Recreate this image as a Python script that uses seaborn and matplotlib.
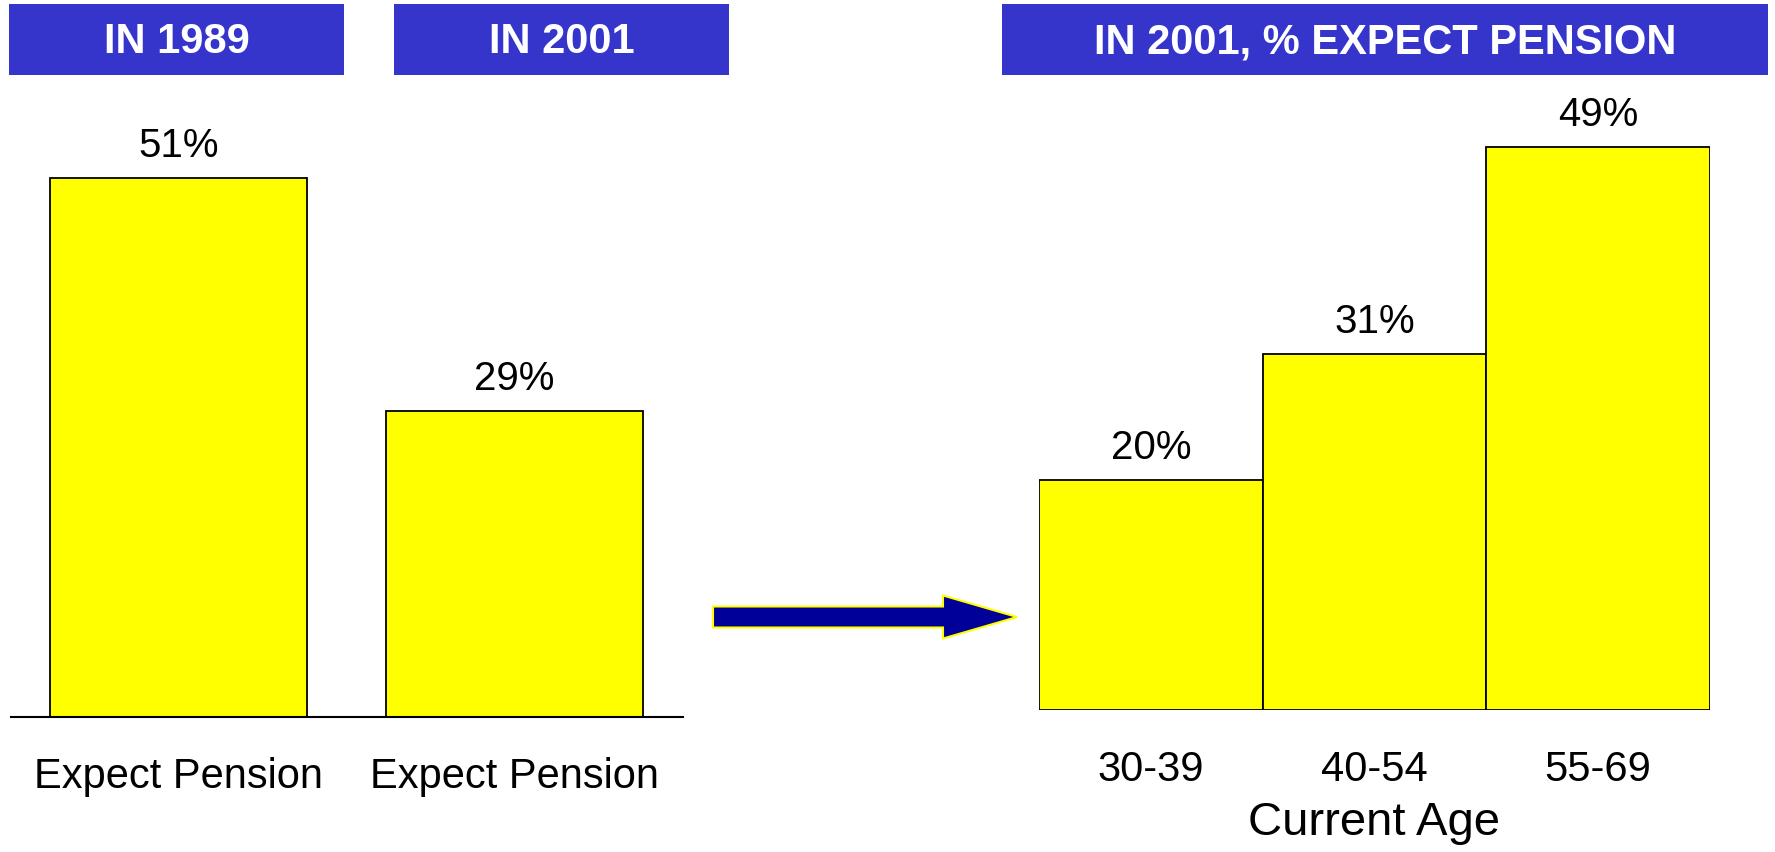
import matplotlib
matplotlib.use('Agg')
import matplotlib.pyplot as plt
import matplotlib.patches as mpatches
import seaborn as sns
import pandas as pd

# data
year_labels = ['Expect Pension', 'Expect Pension']
year_keys = ['1989', '2001']
year_values = [51, 29]

age_groups = ['30-39', '40-54', '55-69']
age_values = [20, 31, 49]

headers = ['IN 1989', 'IN 2001', 'IN 2001, % EXPECT PENSION']

sns.set_style('white')
plt.rcParams['font.family'] = ['Liberation Sans', 'DejaVu Sans']
plt.rcParams['text.color'] = 'black'
plt.rcParams['axes.labelcolor'] = 'black'
plt.rcParams['xtick.color'] = 'black'

W, H = 1775, 853
fig = plt.figure(figsize=(W / 100, H / 100), dpi=100)

def px_axes(x0, x1, ybase, ytop):
    # axes rectangle given in pixel coords from top-left
    return fig.add_axes([x0 / W, (H - ybase) / H, (x1 - x0) / W, (ybase - ytop) / H])

yellow = '#FFFF00'
blue = '#3535CC'

# left panel
ax1 = px_axes(10.5, 682.5, 718, 84)
df1 = pd.DataFrame({'key': year_keys, 'val': year_values})
sns.barplot(data=df1, x='key', y='val', color=yellow, saturation=1, width=0.765,
            edgecolor='black', linewidth=1.3, ax=ax1)
ax1.set_ylim(0, 60)
ax1.set_xlim(-0.5, 1.5)
ax1.set_xticks(range(len(year_labels)))
ax1.set_xticklabels(year_labels, fontsize=30)
ax1.tick_params(axis='x', length=0, pad=28)
ax1.set_yticks([])
ax1.set_xlabel('')
ax1.set_ylabel('')
for s in ['top', 'right', 'left']:
    ax1.spines[s].set_visible(False)
ax1.spines['bottom'].set_linewidth(1.5)
ax1.spines['bottom'].set_color('black')
ax1.patch.set_alpha(0)
ax1.bar_label(ax1.containers[0], labels=[f'{v}%' for v in year_values],
              fontsize=29, padding=10, color='black')

# right panel
ax2 = px_axes(1039, 1710, 711, 21)
df2 = pd.DataFrame({'age': age_groups, 'val': age_values})
sns.barplot(data=df2, x='age', y='val', color=yellow, saturation=1, width=1.0,
            edgecolor='black', linewidth=1.3, ax=ax2)
ax2.set_ylim(0, 60)
ax2.set_xlim(-0.5, 2.5)
ax2.set_xticks(range(len(age_groups)))
ax2.set_xticklabels(age_groups, fontsize=30)
ax2.tick_params(axis='x', length=0, pad=28)
ax2.set_yticks([])
ax2.set_ylabel('')
ax2.set_xlabel('Current Age', fontsize=34, labelpad=8)
sns.despine(ax=ax2, left=True, bottom=True)
ax2.patch.set_alpha(0)
ax2.bar_label(ax2.containers[0], labels=[f'{v}%' for v in age_values],
              fontsize=29, padding=10, color='black')

# header boxes (pixel coords from top-left)
boxes = [(9, 344), (394, 729), (1002, 1768)]
for (x0, x1), txt in zip(boxes, headers):
    fig.patches.append(mpatches.Rectangle((x0 / W, (H - 76) / H), (x1 - x0) / W, 71 / H,
                                          transform=fig.transFigure, facecolor=blue,
                                          edgecolor='none'))
    fig.text((x0 + x1) / 2 / W, (H - 42) / H, txt, color='white', fontsize=30,
             fontweight='bold', ha='center', va='center')

# arrow between panels (inches)
arrow = mpatches.FancyArrow(7.13, (H - 618) / 100, 3.04, 0, width=0.21, head_width=0.43,
                            head_length=0.74, length_includes_head=True,
                            facecolor='#000099', edgecolor='#FFFF00', linewidth=1.5,
                            transform=fig.dpi_scale_trans)
fig.patches.append(arrow)

fig.savefig('out.png', dpi=100)
